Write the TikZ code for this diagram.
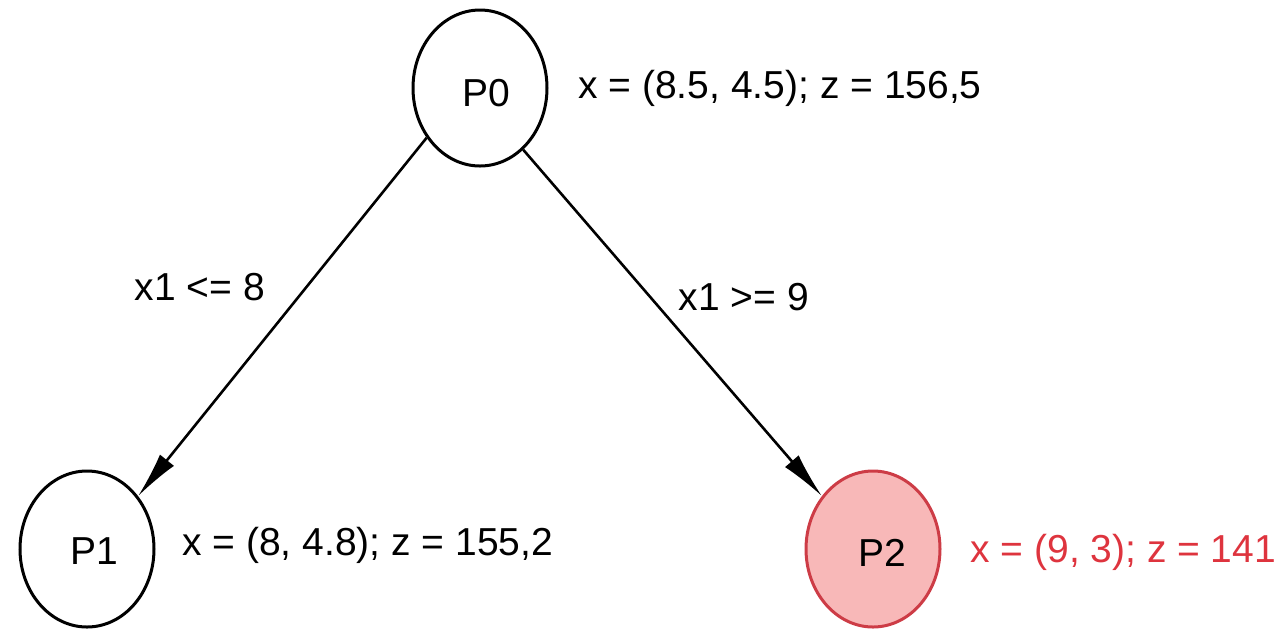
\documentclass[tikz,border=0pt]{standalone}
\usepackage{fontspec}
\setmainfont{Liberation Sans}
\usetikzlibrary{shapes.geometric,arrows.meta}
\definecolor{hotfill}{RGB}{248,184,184}
\definecolor{hotdraw}{RGB}{205,60,70}
\definecolor{hottext}{RGB}{222,52,62}
\tikzset{
  state/.style={ellipse,draw=black,line width=1.5pt,minimum width=67pt,minimum height=78pt,inner sep=0pt},
  hot/.style={state,fill=hotfill,draw=hotdraw},
  txt/.style={font=\fontsize{19.5pt}{22pt}\selectfont,inner sep=0pt},
  info/.style={txt,anchor=west},
  edge/.style={line width=1.3pt,-{Latex[length=23pt,width=9pt]}}
}
\begin{document}
\begin{tikzpicture}[x=0.5pt,y=-0.5pt]
\useasboundingbox (0,0) rectangle (1281,629);
\node[state] (P0) at (480,88) {};
\node[state] (P1) at (87,549) {};
\node[hot] (P2) at (873,549) {};
\node[txt] (P0t) at (486,93) {P0};
\node[txt] (P1t) at (94,551) {P1};
\node[txt] (P2t) at (882,553) {P2};
\node[info] (P0i) at (578,88) {x = (8.5, 4.5); z = 156,5};
\node[info] (P1i) at (182,545) {x = (8, 4.8); z = 155,2};
\node[info,text=hottext] (P2i) at (970,552) {x = (9, 3); z = 141};
\draw[edge] (P0.223) -- (P1.46);
\draw[edge] (P0.305) -- (P2.134);
\node[txt] (L1) at (200,287) {x1 <= 8};
\node[txt] (L2) at (744,297) {x1 >= 9};
\end{tikzpicture}
\end{document}
